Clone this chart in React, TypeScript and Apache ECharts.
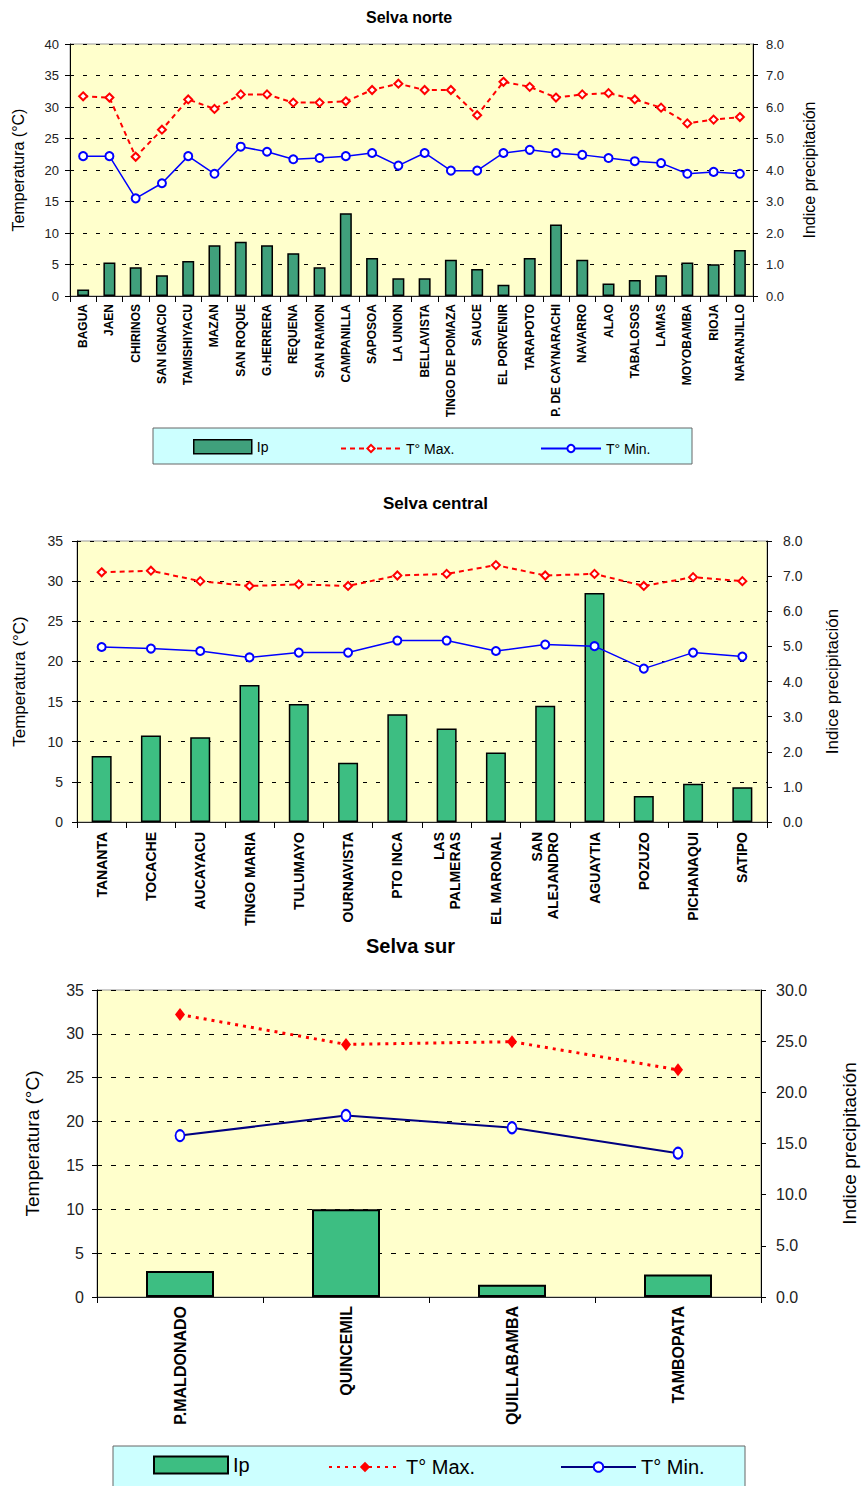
import React, { useEffect, useRef } from "react";
import * as echarts from "echarts";

// ---------- DATA ----------
const norteCategories = [
  "BAGUA", "JAEN", "CHIRINOS", "SAN IGNACIO", "TAMISHIYACU", "MAZAN", "SAN ROQUE",
  "G.HERRERA", "REQUENA", "SAN RAMON", "CAMPANILLA", "SAPOSOA", "LA UNION", "BELLAVISTA",
  "TINGO DE POMAZA", "SAUCE", "EL PORVENIR", "TARAPOTO", "P. DE CAYNARACHI", "NAVARRO",
  "ALAO", "TABALOSOS", "LAMAS", "MOYOBAMBA", "RIOJA", "NARANJILLO",
];
const norteIp = [0.21, 1.06, 0.91, 0.66, 1.11, 1.61, 1.72, 1.61, 1.36, 0.91, 2.63, 1.21, 0.56, 0.56, 1.15, 0.86, 0.36, 1.21, 2.27, 1.15, 0.4, 0.51, 0.66, 1.06, 1.01, 1.46];
const norteTmax = [31.7, 31.5, 22.1, 26.4, 31.2, 29.7, 32.0, 32.0, 30.7, 30.7, 30.9, 32.7, 33.7, 32.7, 32.7, 28.7, 34.0, 33.2, 31.5, 32.0, 32.2, 31.2, 29.9, 27.4, 28.0, 28.4];
const norteTmin = [22.2, 22.2, 15.5, 17.9, 22.2, 19.4, 23.7, 22.9, 21.7, 21.9, 22.2, 22.7, 20.7, 22.7, 19.9, 19.9, 22.7, 23.2, 22.7, 22.4, 21.9, 21.4, 21.1, 19.4, 19.7, 19.4];

const centralCategories = [
  "TANANTA", "TOCACHE", "AUCAYACU", "TINGO MARIA", "TULUMAYO", "OURNAVISTA", "PTO INCA",
  "LAS\nPALMERAS", "EL MARONAL", "SAN\nALEJANDRO", "AGUAYTIA", "POZUZO", "PICHANAQUI", "SATIPO",
];
const centralIp = [1.88, 2.46, 2.41, 3.9, 3.36, 1.69, 3.07, 2.66, 1.98, 3.31, 6.52, 0.74, 1.09, 0.99];
const centralTmax = [31.1, 31.3, 30.0, 29.4, 29.6, 29.4, 30.7, 30.9, 32.0, 30.7, 30.9, 29.4, 30.5, 30.0];
const centralTmin = [21.8, 21.6, 21.3, 20.5, 21.1, 21.1, 22.6, 22.6, 21.3, 22.1, 21.9, 19.1, 21.1, 20.6];

const surCategories = ["P.MALDONADO", "QUINCEMIL", "QUILLABAMBA", "TAMBOPATA"];
const surIp = [2.55, 8.57, 1.2, 2.19];
const surTmax = [32.2, 28.8, 29.1, 25.9];
const surTmin = [18.4, 20.7, 19.3, 16.4];

const titles = ["Selva norte", "Selva central", "Selva sur"];
const leftAxisName = "Temperatura (°C)";
const rightAxisName = "Indice precipitación";
const seriesNames = ["Ip", "T° Max.", "T° Min."];

// ---------- STYLE ----------
const FONT = 'Arial, "Liberation Sans", sans-serif';

function yAxes(o: any) {
  return [
    {
      type: "value",
      position: "left",
      min: 0,
      max: o.leftMax,
      interval: 5,
      name: leftAxisName,
      nameLocation: "middle",
      nameRotate: 90,
      nameGap: o.leftNameGap,
      nameTextStyle: { fontSize: o.nameFont, fontFamily: FONT, color: "#000" },
      axisLine: { show: true, lineStyle: { color: "#000", width: 1 } },
      axisTick: { show: true, length: 5, lineStyle: { color: "#000" } },
      axisLabel: { fontSize: o.tickFont, color: "#222", margin: o.labelMargin, fontFamily: FONT },
      splitLine: { show: true, lineStyle: { color: "#000", type: o.dash, width: 1 } },
    },
    {
      type: "value",
      position: "right",
      min: 0,
      max: o.rightMax,
      interval: o.rightInterval,
      name: rightAxisName,
      nameLocation: "middle",
      nameRotate: 90,
      nameGap: o.rightNameGap,
      nameTextStyle: { fontSize: o.nameFont, fontFamily: FONT, color: "#000" },
      axisLine: { show: true, lineStyle: { color: "#000", width: 1 } },
      axisTick: { show: true, length: 5, lineStyle: { color: "#000" } },
      axisLabel: {
        fontSize: o.tickFont,
        color: "#222",
        margin: o.labelMargin + 2,
        fontFamily: FONT,
        formatter: (v: number) => v.toFixed(1),
      },
      splitLine: { show: false },
    },
  ];
}

function xAxis(o: any, cats: string[]) {
  return {
    type: "category",
    data: cats,
    axisLine: { show: true, lineStyle: { color: "#222", width: 1 } },
    axisTick: { show: true, interval: 0, length: 6, alignWithLabel: false, lineStyle: { color: "#000" } },
    axisLabel: {
      interval: 0,
      rotate: 90,
      fontSize: o.catFont,
      fontWeight: "bold",
      color: "#000",
      margin: o.catMargin,
      fontFamily: FONT,
      lineHeight: o.catFont + 2,
    },
    splitLine: { show: false },
  };
}

function legendEntry(name: string, left: number, top: number, w: number, h: number, fontSize: number, extra: any = {}) {
  return {
    data: [name],
    left,
    top,
    padding: 0,
    itemWidth: w,
    itemHeight: h,
    selectedMode: false,
    textStyle: { fontSize, fontFamily: FONT, color: "#000" },
    ...extra,
  };
}

function optionNorte() {
  const o = {
    leftMax: 40, rightMax: 8, rightInterval: 1, leftNameGap: 44, rightNameGap: 48,
    nameFont: 16, tickFont: 13, labelMargin: 11, dash: [4, 9], catFont: 12, catMargin: 8,
  };
  return {
    animation: false,
    title: { text: titles[0], left: 366, top: 9, padding: 0, textStyle: { fontSize: 16, fontWeight: "bold", fontFamily: FONT, color: "#000" } },
    grid: { left: 70, top: 44, width: 683, height: 252, show: true, backgroundColor: "#FFFFCC", borderColor: "#999", borderWidth: 1 },
    xAxis: xAxis(o, norteCategories),
    yAxis: yAxes(o),
    graphic: [
      { type: "rect", z: 0, shape: { x: 153, y: 428, width: 539, height: 36 }, style: { fill: "#CCFFFF", stroke: "#666", lineWidth: 1 } },
    ],
    legend: [
      legendEntry(seriesNames[0], 193, 439, 58, 14, 14, { icon: "rect", itemStyle: { borderColor: "#000", borderWidth: 1.5 } }),
      legendEntry(seriesNames[1], 340, 441.5, 60, 9, 14),
      legendEntry(seriesNames[2], 540, 441.5, 60, 9, 14),
    ],
    series: [
      {
        type: "bar", name: seriesNames[0], yAxisIndex: 1, data: norteIp, barWidth: 12,
        itemStyle: { color: "#40A07C", borderColor: "#000", borderWidth: 1.5 },
      },
      {
        type: "line", name: seriesNames[1], yAxisIndex: 0, data: norteTmax,
        symbol: "emptyDiamond", symbolSize: 8,
        lineStyle: { color: "#FF0000", width: 2, type: [5, 4] },
        itemStyle: { color: "#FF0000", borderWidth: 1.5 },
      },
      {
        type: "line", name: seriesNames[2], yAxisIndex: 0, data: norteTmin,
        symbol: "emptyCircle", symbolSize: 8,
        lineStyle: { color: "#0000FF", width: 1.5 },
        itemStyle: { color: "#0000FF", borderWidth: 1.5 },
      },
    ],
  };
}

function optionCentral() {
  const o = {
    leftMax: 35, rightMax: 8, rightInterval: 1, leftNameGap: 49, rightNameGap: 57,
    nameFont: 17, tickFont: 14, labelMargin: 14, dash: [4, 9], catFont: 14, catMargin: 10,
  };
  return {
    animation: false,
    title: { text: titles[1], left: 383, top: 15, padding: 0, textStyle: { fontSize: 17, fontWeight: "bold", fontFamily: FONT, color: "#000" } },
    grid: { left: 77, top: 61, width: 690, height: 281, show: true, backgroundColor: "#FFFFCC", borderColor: "#999", borderWidth: 1 },
    xAxis: xAxis(o, centralCategories),
    yAxis: yAxes(o),
    series: [
      {
        type: "bar", name: seriesNames[0], yAxisIndex: 1, data: centralIp, barWidth: 20,
        itemStyle: { color: "#3DBE82", borderColor: "#000", borderWidth: 1.5 },
      },
      {
        type: "line", name: seriesNames[1], yAxisIndex: 0, data: centralTmax,
        symbol: "emptyDiamond", symbolSize: 8,
        lineStyle: { color: "#FF0000", width: 2, type: [5, 4] },
        itemStyle: { color: "#FF0000", borderWidth: 1.5 },
      },
      {
        type: "line", name: seriesNames[2], yAxisIndex: 0, data: centralTmin,
        symbol: "emptyCircle", symbolSize: 8,
        lineStyle: { color: "#0000FF", width: 1.5 },
        itemStyle: { color: "#0000FF", borderWidth: 1.5 },
      },
    ],
  };
}

function optionSur() {
  const o = {
    leftMax: 35, rightMax: 30, rightInterval: 5, leftNameGap: 55, rightNameGap: 79,
    nameFont: 19, tickFont: 16, labelMargin: 13, dash: [5, 9], catFont: 16, catMargin: 9,
  };
  return {
    animation: false,
    title: { text: titles[2], left: 366, top: 6, padding: 0, textStyle: { fontSize: 20, fontWeight: "bold", fontFamily: FONT, color: "#000" } },
    grid: { left: 97, top: 60, width: 674, height: 307, show: true, backgroundColor: "#FFFFCC", borderColor: "#999", borderWidth: 1 },
    xAxis: xAxis(o, surCategories),
    yAxis: yAxes(o),
    graphic: [
      { type: "rect", z: 0, shape: { x: 113, y: 516, width: 632, height: 44 }, style: { fill: "#CCFFFF", stroke: "#666", lineWidth: 1 } },
    ],
    legend: [
      legendEntry(seriesNames[0], 153, 525, 74, 17, 20, { icon: "rect", itemStyle: { borderColor: "#000", borderWidth: 2 } }),
      legendEntry(seriesNames[1], 328, 527, 72, 13, 20),
      legendEntry(seriesNames[2], 560, 527, 75, 12, 20),
    ],
    series: [
      {
        type: "bar", name: seriesNames[0], yAxisIndex: 1, data: surIp, barWidth: 68,
        itemStyle: { color: "#3DBE82", borderColor: "#000", borderWidth: 2 },
      },
      {
        type: "line", name: seriesNames[1], yAxisIndex: 0, data: surTmax,
        symbol: "diamond", symbolSize: [10, 13],
        lineStyle: { color: "#FF0000", width: 3, type: [3, 5] },
        itemStyle: { color: "#FF0000" },
      },
      {
        type: "line", name: seriesNames[2], yAxisIndex: 0, data: surTmin,
        symbol: "emptyCircle", symbolSize: [9, 11],
        lineStyle: { color: "#000080", width: 2 },
        itemStyle: { color: "#0000FF", borderWidth: 2 },
      },
    ],
  };
}

function Chart({ top, height, option }: { top: number; height: number; option: () => any }) {
  const ref = useRef<HTMLDivElement>(null);
  useEffect(() => {
    if (!ref.current) return;
    const chart = echarts.init(ref.current, undefined, { renderer: "svg" });
    chart.setOption(option());
    return () => chart.dispose();
  }, [option]);
  return (
    <div
      ref={ref}
      style={{ position: "absolute", left: 0, top, width: 867, height }}
    />
  );
}

export default function App() {
  return (
    <div style={{ position: "absolute", left: 0, top: 0, width: 867, height: 1486, background: "#fff", overflow: "hidden" }}>
      <Chart top={0} height={480} option={optionNorte} />
      <Chart top={480} height={450} option={optionCentral} />
      <Chart top={930} height={556} option={optionSur} />
    </div>
  );
}
